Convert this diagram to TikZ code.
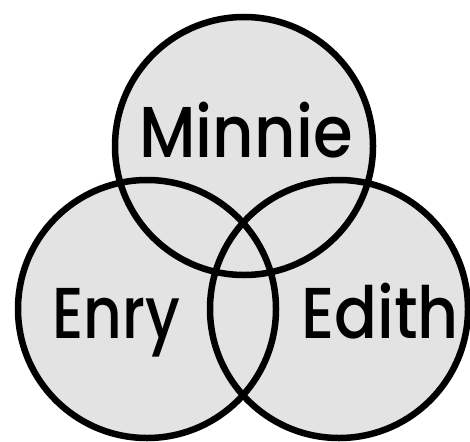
\documentclass[tikz,border=0pt]{standalone}
\usepackage{fontspec}
\setmainfont{Poppins}[UprightFont=* Medium]
\definecolor{vennfill}{HTML}{E3E3E3}
\tikzset{
  vennset/.style={circle, minimum size=258pt, inner sep=0pt, fill=vennfill},
  vennline/.style={circle, minimum size=258pt, inner sep=0pt, draw=black, line width=6.5pt},
  vennlabel/.style={anchor=base, inner sep=0pt, font=\fontsize{72}{80}\selectfont}
}
\begin{document}
\begin{tikzpicture}[x=1pt,y=-1pt]
\useasboundingbox (0,0) rectangle (470,441);
\fill[white] (0,0) rectangle (470,441);
\node[vennset] (fminnie) at (244,146) {};
\node[vennset] (fenry) at (147,309) {};
\node[vennset] (fedith) at (339,309) {};
\node[vennline] (minnie) at (244,146) {};
\node[vennline] (enry) at (147,309) {};
\node[vennline] (edith) at (339,309) {};
\node[vennlabel] (tminnie) at (246,157) {\scalebox{0.89}[1]{Minnie}};
\node[vennlabel] (tenry) at (116.5,338) {\scalebox{0.83}[1]{Enry}};
\node[vennlabel] (tedith) at (380,338) {\scalebox{0.88}[1]{Edith}};
\end{tikzpicture}
\end{document}
